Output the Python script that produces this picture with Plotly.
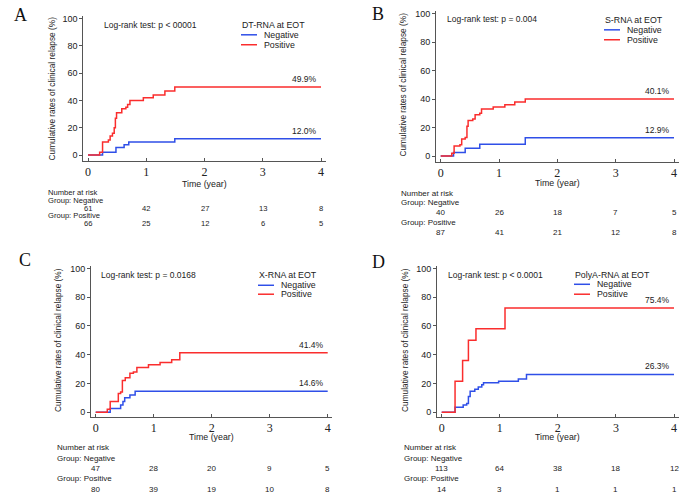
import plotly.graph_objects as go

W, H = 700, 496

# ---------------- data ----------------
panels = ["A", "B", "C", "D"]
markers = ["DT-RNA at EOT", "S-RNA at EOT", "X-RNA at EOT", "PolyA-RNA at EOT"]
pvalues = ["Log-rank test: p < 00001", "Log-rank test: p = 0.004",
           "Log-rank test: p = 0.0168", "Log-rank test: p < 0.0001"]
groups = ["Negative", "Positive"]
risk_times = [0, 1, 2, 3, 4]

A_neg_t = [0, 0.25, 0.48, 0.62, 0.70, 1.49, 4.0]
A_neg_v = [0, 2.0, 5.5, 7.5, 9.5, 12.0, 12.0]
A_pos_t = [0, 0.20, 0.25, 0.35, 0.38, 0.42, 0.45, 0.47, 0.49, 0.58, 0.65, 0.68, 0.72, 0.95, 1.12, 1.32, 1.49, 4.0]
A_pos_v = [0, 2, 9.5, 11, 14, 16, 20, 27, 31, 34, 35, 37, 40, 42, 44, 47, 49.9, 49.9]

B_neg_t = [0, 0.22, 0.42, 0.67, 1.45, 4.0]
B_neg_v = [0, 2.5, 5.5, 8.3, 12.9, 12.9]
B_pos_t = [0, 0.19, 0.23, 0.33, 0.36, 0.42, 0.45, 0.47, 0.55, 0.59, 0.67, 0.70, 0.90, 1.10, 1.27, 1.45, 4.0]
B_pos_v = [0, 2, 7, 8, 12, 13, 21, 25, 26, 29, 30, 33, 34.5, 36, 38, 40.1, 40.1]

C_neg_t = [0, 0.25, 0.43, 0.47, 0.50, 0.59, 0.68, 4.0]
C_neg_v = [0, 2.5, 5, 7.5, 10, 12, 14.6, 14.6]
C_pos_t = [0, 0.20, 0.25, 0.39, 0.43, 0.46, 0.51, 0.59, 0.65, 0.71, 0.91, 1.11, 1.31, 1.45, 4.0]
C_pos_v = [0, 2, 7.5, 13, 14, 22, 24, 27, 28, 31, 33, 34.5, 36.5, 41.4, 41.4]

D_neg_t = [0, 0.23, 0.37, 0.43, 0.46, 0.49, 0.57, 0.63, 0.69, 0.72, 0.98, 1.32, 1.46, 4.0]
D_neg_v = [0, 3.5, 5, 6, 11, 14.5, 16, 17.5, 19, 20.5, 21.5, 23, 26.3, 26.3]
D_pos_t = [0, 0.23, 0.36, 0.46, 0.59, 1.09, 4.0]
D_pos_v = [0, 21.5, 36, 50, 58, 72.5, 72.5]

end_labels = [["12.0%", "49.9%"], ["12.9%", "40.1%"], ["14.6%", "41.4%"], ["26.3%", "75.4%"]]

A_neg_risk = [61, 42, 27, 13, 8]
A_pos_risk = [66, 25, 12, 6, 5]
B_neg_risk = [40, 26, 18, 7, 5]
B_pos_risk = [87, 41, 21, 12, 8]
C_neg_risk = [47, 28, 20, 9, 5]
C_pos_risk = [80, 39, 19, 10, 8]
D_neg_risk = [113, 64, 38, 18, 12]
D_pos_risk = [14, 3, 1, 1, 1]

curves = [
    [(A_neg_t, A_neg_v), (A_pos_t, A_pos_v)],
    [(B_neg_t, B_neg_v), (B_pos_t, B_pos_v)],
    [(C_neg_t, C_neg_v), (C_pos_t, C_pos_v)],
    [(D_neg_t, D_neg_v), (D_pos_t, D_pos_v)],
]
risks = [[A_neg_risk, A_pos_risk], [B_neg_risk, B_pos_risk],
         [C_neg_risk, C_pos_risk], [D_neg_risk, D_pos_risk]]

# ---------------- layout geometry (pixels) ----------------
# x0px, x4px, y0px, y100px, yrange_min
geom = [
    (88.0, 321.0, 154.0, 16.7, -4.3),
    (440.7, 674.0, 155.0, 11.7, -4.2),
    (95.7, 327.7, 412.7, 268.0, -3.0),
    (441.7, 674.0, 412.7, 268.0, -3.0),
]
xr = [-0.08, 4.08]
ytop = 102

# text positions (pixels)
letter_pos = [(20, 13), (378, 12), (25, 260), (378, 262)]
logrank_pos = [(102, 23), (445, 17), (99, 275), (446, 275)]
legend_pos = [(240, 23, 33, 43), (603, 18, 28, 38), (257, 275, 285, 294), (573, 275, 284, 294)]
ytitle_pos = [(52, 87), (403, 83), (58, 340), (405, 340)]
xtitle_y = [183, 182, 438, 438]
risk_left = [46, 399, 55, 402]
risk_rows = [(191.5, 199.5, 207.3, 215, 222.8), (192.3, 201.7, 211.7, 221.7, 231.7),
             (448.3, 459, 469.3, 479.3, 490), (448.3, 459, 469.3, 479.3, 490)]
risk_font = [7.6, 8, 8, 8]

COLORS = ["#2f4fe8", "#fa2d2d"]
SANS = "Liberation Sans, Arial, sans-serif"
SERIF = "Liberation Serif, Times New Roman, serif"
TXT = "#222222"


def px(x):
    return x / W


def py(y):
    return 1 - y / H


fig = go.Figure()
annotations = []
shapes = []

for i in range(4):
    x0p, x4p, y0p, y100p, ymin = geom[i]
    sx = (x4p - x0p) / 4.0
    sy = (y0p - y100p) / 100.0
    dom_x = [px(x0p + xr[0] * sx), px(x0p + xr[1] * sx)]
    dom_y = [py(y0p - ymin * sy), py(y0p - ytop * sy)]
    sfx = "" if i == 0 else str(i + 1)
    xa = "x" + sfx
    ya = "y" + sfx

    for g in range(2):
        t, v = curves[i][g]
        fig.add_trace(go.Scatter(x=t, y=v, mode="lines", line_shape="hv",
                                 line=dict(color=COLORS[g], width=1.5),
                                 name=groups[g], showlegend=False, hoverinfo="skip",
                                 xaxis=xa, yaxis=ya))
        annotations.append(dict(x=t[-1], y=v[-1], xref=xa, yref=ya, text=end_labels[i][g],
                                showarrow=False, xanchor="right", yanchor="bottom",
                                xshift=-2, yshift=1, font=dict(family=SANS, size=8.5, color=TXT)))

    fig.update_layout(**{
        "xaxis" + sfx: dict(domain=dom_x, range=xr, anchor=ya, showline=True,
                            linecolor="#555555", linewidth=1, ticks="inside", ticklen=3,
                            tickcolor="#555555", tickvals=risk_times,
                            tickfont=dict(family=SERIF, size=12, color=TXT),
                            showgrid=False, zeroline=False, fixedrange=True),
        "yaxis" + sfx: dict(domain=dom_y, range=[ymin, ytop], anchor=xa, showline=True,
                            linecolor="#555555", linewidth=1, ticks="outside", ticklen=3,
                            tickcolor="#555555", tickvals=[0, 20, 40, 60, 80, 100],
                            tickfont=dict(family=SANS, size=9, color=TXT),
                            showgrid=False, zeroline=False, fixedrange=True),
    })

    lx, ly = letter_pos[i]
    annotations.append(dict(x=px(lx), y=py(ly), xref="paper", yref="paper", text=panels[i],
                            showarrow=False, xanchor="center", yanchor="middle",
                            font=dict(family=SERIF, size=18, color="#111111")))
    gx, gy = logrank_pos[i]
    annotations.append(dict(x=px(gx), y=py(gy), xref="paper", yref="paper", text=pvalues[i],
                            showarrow=False, xanchor="left", yanchor="middle",
                            font=dict(family=SANS, size=8.5, color=TXT)))
    lgx, lgt, lgn, lgp = legend_pos[i]
    annotations.append(dict(x=px(lgx), y=py(lgt), xref="paper", yref="paper", text=markers[i],
                            showarrow=False, xanchor="left", yanchor="middle",
                            font=dict(family=SANS, size=8.8, color=TXT)))
    for g, yy in enumerate([lgn, lgp]):
        shapes.append(dict(type="line", xref="paper", yref="paper",
                           x0=px(lgx + 1), x1=px(lgx + 17), y0=py(yy), y1=py(yy),
                           line=dict(color=COLORS[g], width=1.5)))
        annotations.append(dict(x=px(lgx + 22), y=py(yy), xref="paper", yref="paper",
                                text=groups[g], showarrow=False, xanchor="left", yanchor="middle",
                                font=dict(family=SANS, size=8.8, color=TXT)))
    tx, ty = ytitle_pos[i]
    annotations.append(dict(x=px(tx), y=py(ty), xref="paper", yref="paper",
                            text="Cumulative rates of clinical relapse (%)", textangle=-90,
                            showarrow=False, xanchor="center", yanchor="middle",
                            font=dict(family=SANS, size=8.3, color=TXT)))
    annotations.append(dict(x=2, y=py(xtitle_y[i]), xref=xa, yref="paper", text="Time (year)",
                            showarrow=False, xanchor="center", yanchor="middle",
                            font=dict(family=SANS, size=8.8, color=TXT)))
    rows = risk_rows[i]
    rl = risk_left[i]
    for txt, yy in [("Number at risk", rows[0]), ("Group: Negative", rows[1]),
                    ("Group: Positive", rows[3])]:
        annotations.append(dict(x=px(rl), y=py(yy), xref="paper", yref="paper", text=txt,
                                showarrow=False, xanchor="left", yanchor="middle",
                                font=dict(family=SANS, size=risk_font[i], color=TXT)))
    for g, yy in enumerate([rows[2], rows[4]]):
        for tt, n in zip(risk_times, risks[i][g]):
            annotations.append(dict(x=tt, y=py(yy), xref=xa, yref="paper", text=str(n),
                                    showarrow=False, xanchor="center", yanchor="middle",
                                    font=dict(family=SANS, size=risk_font[i], color=TXT)))

fig.update_layout(width=W, height=H, autosize=False,
                  margin=dict(l=0, r=0, t=0, b=0, pad=0),
                  paper_bgcolor="white", plot_bgcolor="white",
                  showlegend=False, annotations=annotations, shapes=shapes)

fig.write_html("out.html", config={"displayModeBar": False, "staticPlot": True},
               post_script="document.body.style.margin='0';document.body.style.padding='0';")
